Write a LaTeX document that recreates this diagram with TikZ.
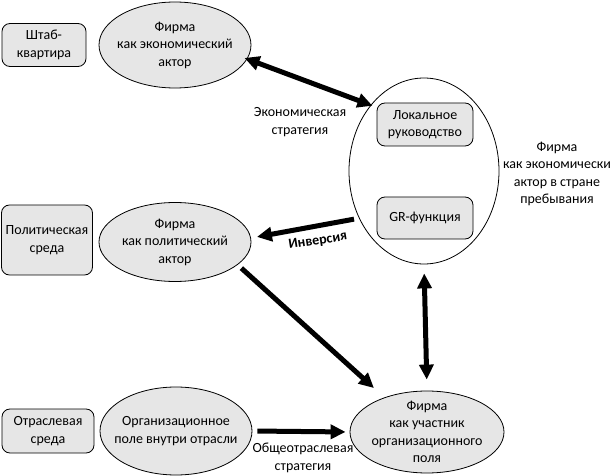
\documentclass[tikz,border=0pt]{standalone}
\usepackage{fontspec}
\setmainfont{Carlito}
\usetikzlibrary{shapes.geometric,arrows.meta}
\definecolor{shapefill}{HTML}{E6E6E6}
\tikzset{
  rbox/.style={draw, rounded corners=8pt, fill=shapefill, line width=0.8pt, inner sep=0pt, align=center},
  oval/.style={draw, ellipse, fill=shapefill, line width=0.8pt, inner sep=0pt},
  inner/.style={align=center, font=\fontsize{14}{17.5}\selectfont},
  lbl/.style={align=center, font=\fontsize{14}{17.5}\selectfont},
  bigarrow/.style={line width=5pt, -{Triangle[length=15pt,width=14pt]}},
  bigarrows/.style={line width=5pt, {Triangle[length=15pt,width=14pt]}-{Triangle[length=15pt,width=14pt]}}
}
\begin{document}
\begin{tikzpicture}[x=1pt,y=-1pt, font=\fontsize{14}{17.5}\selectfont]
\useasboundingbox (0,0) rectangle (614,476);
% left boxes
\node[rbox, minimum width=84pt, minimum height=43pt] (hq) at (44,45) {Штаб-\\квартира};
\node[rbox, minimum width=91pt, minimum height=70pt] (polenv) at (47,240) {Политическая\\среда};
\node[rbox, minimum width=92pt, minimum height=44pt] (indenv) at (48,431) {Отраслевая\\среда};
% ellipses
\node[oval, minimum width=152pt, minimum height=86pt,
  label={[inner]center:Фирма\\как экономический\\актор}] (econ) at (175,45) {};
\node[oval, minimum width=152pt, minimum height=79pt,
  label={[inner]center:Фирма\\как политический\\актор}] (pol) at (175,242) {};
\node[oval, minimum width=152pt, minimum height=88pt,
  label={[inner]center:Организационное\\поле внутри отрасли}] (field) at (176,431) {};
\node[oval, minimum width=154pt, minimum height=82pt,
  label={[inner]center:Фирма\\как участник\\организационного\\поля}] (member) at (427,432) {};
% host ellipse
\node[draw, ellipse, fill=white, line width=0.8pt, minimum width=150pt, minimum height=186pt] (host) at (424,171) {};
\node[rbox, minimum width=96pt, minimum height=43pt] (local) at (425,124.5) {Локальное\\руководство};
\node[rbox, minimum width=96pt, minimum height=42pt] (gr) at (425,218) {GR-функция};
% labels
\node[lbl] (econstrat) at (300,122) {Экономическая\\стратегия};
\node[lbl] (hostlbl) at (557,174) {Фирма\\как экономически\\актор в стране\\пребывания};
\node[lbl, font=\fontsize{14}{17.5}\selectfont\bfseries, rotate=9] (inv) at (318,241) {Инверсия};
\node[lbl] (indstrat) at (303,458) {Общеотраслевая\\стратегия};
% connectors
\draw[bigarrows, shorten <=-3pt, shorten >=-2pt] (econ.-11) -- (host.129.5);
\draw[bigarrow, shorten <=5pt, shorten >=6pt] (host.216) -- (pol.3);
\draw[bigarrow, shorten <=5pt, shorten >=14pt] (pol.-20) -- (member.141);
\draw[bigarrows, shorten <=9pt, shorten >=11pt] (host.south) -- (member.north);
\draw[bigarrow, shorten <=5pt, shorten >=4pt] (field.east) -- (member.west);
\end{tikzpicture}
\end{document}
